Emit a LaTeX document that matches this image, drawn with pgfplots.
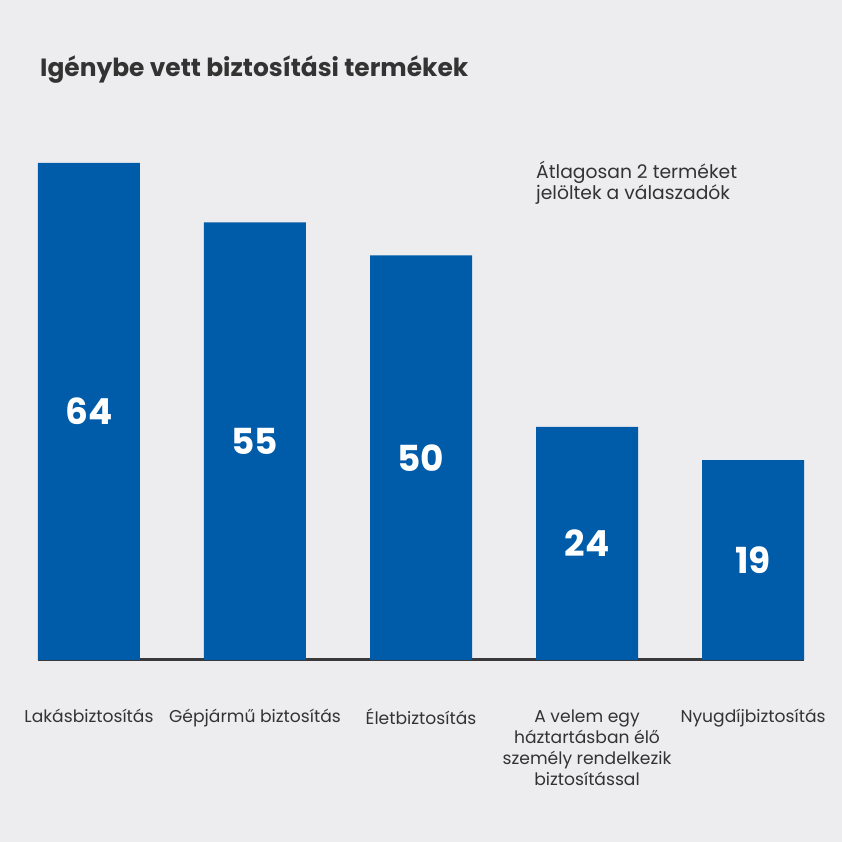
\documentclass[border=0pt]{standalone}
\usepackage{fontspec}
\setmainfont{Poppins}
\usepackage{pgfplots}
\usepackage{pgfplotstable}
\pgfplotsset{compat=1.18}
\definecolor{bg}{RGB}{237,237,239}
\definecolor{barblue}{RGB}{0,92,169}
\definecolor{ink}{RGB}{51,51,51}
\definecolor{basel}{RGB}{58,58,58}
\pagecolor{bg}

% x = category position, v = share of respondents
\pgfplotstableread{
x v
0 64
1 55
2 50
3 24
4 19
}\termek

\begin{document}
\begin{tikzpicture}[x=1bp,y=1bp]
\path (0,0) rectangle (842,842);
\node[anchor=base west, inner sep=0, text=ink,
  font=\fontsize{25}{30}\selectfont\bfseries] at (40,765)
  {Igénybe vett biztosítási termékek};
\node[anchor=base west, inner sep=0, align=left, text=ink,
  font=\fontsize{18.8}{22}\selectfont] at (536,642)
  {Átlagosan 2 terméket\\jelöltek a válaszadók};
\begin{axis}[
  set layers,
  at={(38bp,182bp)}, anchor=south west,
  scale only axis, width=766bp, height=497bp,
  xmin=-0.307, xmax=4.307, ymin=0, ymax=75.3,
  clip=false,
  axis x line*=bottom, axis y line=none,
  x axis line style={line width=3bp, color=basel},
  xtick={0,1,2,3,4}, major tick length=0pt,
  xticklabels={
    {\strut Lakásbiztosítás},
    {\strut Gépjármű biztosítás},
    {\strut Életbiztosítás},
    {\strut A velem egy\\háztartásban élő\\személy rendelkezik\\biztosítással},
    {\strut Nyugdíjbiztosítás}},
  xticklabel style={anchor=north, inner sep=0pt, yshift=-48bp, align=center,
    text=ink, font=\fontsize{17.2}{21}\selectfont},
  ytick=\empty,
  /pgf/number format/assume math mode=true,
]
\addplot[ybar, bar width=102bp, bar shift=0pt, fill=barblue, draw=none]
  table[x=x, y expr=\thisrow{v}+11.3] {\termek};
\addplot[draw=none, mark=none, nodes near coords, point meta=explicit,
  every node near coord/.style={anchor=center, text=white,
    font=\fontsize{36}{40}\selectfont\bfseries}]
  table[x=x, y expr=(\thisrow{v}+11.3)/2, meta=v] {\termek};
\end{axis}
\end{tikzpicture}
\end{document}
